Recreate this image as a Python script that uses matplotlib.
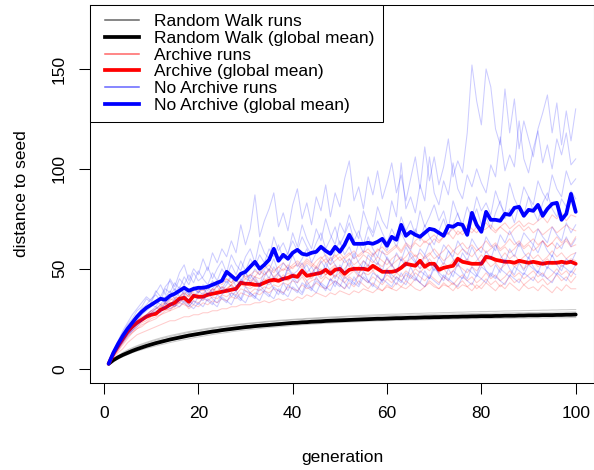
import numpy as np
import matplotlib
matplotlib.use("Agg")
import matplotlib.pyplot as plt
from matplotlib.lines import Line2D
from matplotlib.legend_handler import HandlerLine2D

plt.rcParams['font.family'] = ['Liberation Sans', 'DejaVu Sans']
plt.rcParams['font.size'] = 12.5

generation = np.arange(1, 101)

# global means
rw_mean = [
    2.5, 4.3, 5.7, 6.9, 7.9, 8.9, 9.8, 10.6, 11.4, 12.1,
    12.8, 13.4, 14.0, 14.6, 15.1, 15.6, 16.1, 16.6, 17.0, 17.4,
    17.8, 18.2, 18.6, 18.9, 19.3, 19.6, 19.9, 20.2, 20.5, 20.8,
    21.0, 21.3, 21.5, 21.7, 21.9, 22.1, 22.3, 22.5, 22.7, 22.9,
    23.0, 23.2, 23.3, 23.5, 23.6, 23.7, 23.9, 24.0, 24.1, 24.2,
    24.3, 24.4, 24.5, 24.6, 24.7, 24.8, 24.9, 25.0, 25.0, 25.1,
    25.2, 25.3, 25.3, 25.4, 25.5, 25.5, 25.6, 25.7, 25.7, 25.8,
    25.8, 25.9, 25.9, 26.0, 26.0, 26.1, 26.1, 26.2, 26.2, 26.3,
    26.3, 26.3, 26.4, 26.4, 26.5, 26.5, 26.5, 26.6, 26.6, 26.7,
    26.7, 26.7, 26.8, 26.8, 26.8, 26.9, 26.9, 27.0, 27.0, 27.1,
]
archive_mean = [
    2.5, 7.5, 11.5, 15, 18.5, 21, 23, 24.5, 26, 27,
    27.5, 29.5, 30.5, 32, 33, 35, 35.5, 33.5, 36.5, 36,
    36, 37, 37.5, 38, 38.5, 39, 39.5, 40, 43, 42.5,
    42.5, 42, 42, 43, 44, 44.5, 44, 45, 45.5, 46.5,
    46, 49, 46.5, 47, 47.5, 48, 49.5, 47.5, 49.5, 50,
    47.5, 49.5, 50, 50, 50, 49.5, 51.5, 50, 48.5, 48.5,
    48.5, 49, 50.5, 52.5, 52, 51.5, 54, 51, 52.5, 52.5,
    49.5, 50.5, 51, 51.5, 55, 53.5, 53, 52.5, 52.5, 52.5,
    56, 55.5, 54.5, 54, 53.5, 53.5, 53, 54, 53.5, 53,
    53.5, 53, 52.5, 53, 53, 53, 53.5, 53, 53.5, 52.5,
]
noarchive_mean = [
    2.5, 8, 12.5, 16.5, 20, 23, 26, 28.5, 30.5, 32,
    33.5, 35, 34.5, 36.5, 37.5, 39, 40.5, 39, 40, 40.5,
    40.5, 41, 42, 43, 44, 48.5, 46.5, 44.5, 47.5, 48.5,
    51, 53.5, 50, 52, 54.5, 60, 54, 57, 55, 58,
    59.5, 57.5, 57, 58, 58.5, 61, 59, 57.5, 61, 58.5,
    62, 67, 62.5, 62.5, 62.5, 63, 62.5, 63.5, 65, 61.5,
    66, 64.5, 72, 66.5, 68.5, 67, 66, 68, 70, 69.5,
    68, 66.5, 71.5, 71, 72.5, 72, 67, 78, 72, 68.5,
    78.5, 74.5, 74.5, 74, 77.5, 77, 80.5, 81, 76.5, 79.5,
    79, 82, 76.5, 80, 82.5, 83, 74.5, 77.5, 87.5, 78.5,
]

# individual runs
rw_runs = [
    [2.5, 4.0, 5.0, 6.0, 7.0, 8.0, 8.8, 9.5, 10.2, 10.8,
     11.4, 12.0, 12.5, 13.1, 13.6, 14.1, 14.6, 15.0, 15.5, 15.9,
     16.3, 16.7, 17.1, 17.5, 17.8, 18.1, 18.5, 18.8, 19.1, 19.4,
     19.6, 19.9, 20.1, 20.4, 20.6, 20.8, 21.0, 21.2, 21.4, 21.6,
     21.8, 22.0, 22.1, 22.3, 22.4, 22.6, 22.7, 22.8, 23.0, 23.1,
     23.2, 23.3, 23.4, 23.5, 23.6, 23.7, 23.8, 23.9, 24.0, 24.0,
     24.1, 24.2, 24.2, 24.3, 24.4, 24.4, 24.5, 24.5, 24.6, 24.6,
     24.7, 24.7, 24.8, 24.8, 24.9, 24.9, 24.9, 25.0, 25.0, 25.0,
     25.1, 25.1, 25.1, 25.2, 25.2, 25.2, 25.3, 25.3, 25.3, 25.3,
     25.4, 25.4, 25.4, 25.4, 25.5, 25.5, 25.5, 25.5, 25.6, 25.6],
    [2.5, 4.5, 5.8, 7.0, 8.0, 9.0, 9.8, 10.6, 11.3, 12.0,
     12.6, 13.2, 13.9, 14.4, 14.8, 15.3, 15.9, 16.2, 16.6, 17.1,
     17.6, 17.9, 18.3, 18.6, 19.0, 19.4, 19.6, 19.9, 20.3, 20.5,
     20.8, 21.0, 21.3, 21.4, 21.7, 21.9, 22.1, 22.2, 22.5, 22.6,
     22.8, 23.0, 23.0, 23.2, 23.4, 23.5, 23.6, 23.8, 23.8, 24.0,
     24.1, 24.1, 24.3, 24.4, 24.4, 24.6, 24.7, 24.7, 24.8, 24.9,
     25.0, 25.0, 25.1, 25.2, 25.2, 25.3, 25.4, 25.4, 25.5, 25.5,
     25.6, 25.6, 25.7, 25.7, 25.8, 25.8, 25.9, 25.9, 26.0, 26.0,
     26.0, 26.1, 26.1, 26.2, 26.2, 26.2, 26.3, 26.3, 26.3, 26.4,
     26.4, 26.4, 26.5, 26.5, 26.5, 26.6, 26.6, 26.6, 26.7, 26.7],
    [2.5, 4.2, 6.0, 7.3, 8.5, 9.5, 10.4, 11.3, 12.0, 12.8,
     13.5, 14.1, 14.6, 15.3, 15.8, 16.4, 16.8, 17.3, 17.7, 18.1,
     18.5, 18.9, 19.3, 19.6, 20.0, 20.3, 20.6, 20.9, 21.2, 21.4,
     21.7, 21.9, 22.2, 22.4, 22.6, 22.8, 23.0, 23.2, 23.4, 23.6,
     23.7, 23.9, 24.0, 24.2, 24.3, 24.4, 24.6, 24.7, 24.8, 24.9,
     25.0, 25.1, 25.2, 25.3, 25.4, 25.5, 25.6, 25.7, 25.8, 25.8,
     25.9, 26.0, 26.1, 26.1, 26.2, 26.3, 26.3, 26.4, 26.5, 26.5,
     26.6, 26.6, 26.7, 26.7, 26.8, 26.8, 26.9, 26.9, 27.0, 27.0,
     27.1, 27.1, 27.2, 27.2, 27.2, 27.3, 27.3, 27.4, 27.4, 27.4,
     27.5, 27.5, 27.5, 27.6, 27.6, 27.6, 27.7, 27.7, 27.7, 27.8],
    [2.5, 4.6, 6.2, 7.6, 8.9, 10.0, 11.0, 11.9, 12.7, 13.5,
     14.2, 14.8, 15.5, 16.0, 16.6, 17.1, 17.6, 18.1, 18.5, 18.9,
     19.3, 19.7, 20.1, 20.4, 20.8, 21.1, 21.4, 21.7, 22.0, 22.2,
     22.5, 22.7, 23.0, 23.2, 23.4, 23.6, 23.8, 24.0, 24.2, 24.3,
     24.5, 24.6, 24.8, 24.9, 25.1, 25.2, 25.3, 25.4, 25.6, 25.7,
     25.8, 25.9, 26.0, 26.1, 26.1, 26.2, 26.3, 26.4, 26.5, 26.5,
     26.6, 26.7, 26.7, 26.8, 26.9, 26.9, 27.0, 27.0, 27.1, 27.2,
     27.2, 27.3, 27.3, 27.4, 27.4, 27.5, 27.5, 27.6, 27.6, 27.7,
     27.7, 27.7, 27.8, 27.8, 27.9, 27.9, 28.0, 28.0, 28.0, 28.1,
     28.1, 28.1, 28.2, 28.2, 28.2, 28.3, 28.3, 28.3, 28.4, 28.4],
    [2.5, 4.8, 6.6, 8.1, 9.4, 10.5, 11.5, 12.4, 13.2, 14.0,
     14.7, 15.4, 16.0, 16.6, 17.1, 17.6, 18.1, 18.6, 19.0, 19.4,
     19.8, 20.2, 20.5, 20.9, 21.2, 21.5, 21.8, 22.1, 22.4, 22.6,
     22.9, 23.1, 23.3, 23.6, 23.8, 24.0, 24.2, 24.4, 24.5, 24.7,
     24.9, 25.0, 25.2, 25.3, 25.5, 25.6, 25.7, 25.9, 26.0, 26.1,
     26.2, 26.4, 26.5, 26.6, 26.7, 26.8, 26.9, 27.0, 27.1, 27.2,
     27.3, 27.3, 27.4, 27.5, 27.6, 27.7, 27.7, 27.8, 27.9, 27.9,
     28.0, 28.1, 28.1, 28.2, 28.3, 28.3, 28.4, 28.5, 28.5, 28.6,
     28.6, 28.7, 28.7, 28.8, 28.9, 28.9, 29.0, 29.0, 29.1, 29.1,
     29.2, 29.2, 29.3, 29.3, 29.4, 29.4, 29.5, 29.5, 29.6, 29.6],
]

archive_runs = [
    [3, 7, 11, 14, 17, 19, 21, 23, 24, 26,
     27, 29, 30, 29, 32, 33, 35, 34, 36, 37,
     36, 38, 40, 39, 41, 40, 42, 44, 43, 45,
     44, 46, 45, 47, 49, 46, 48, 50, 49, 51,
     52, 50, 53, 51, 54, 56, 53, 55, 57, 54,
     56, 58, 55, 57, 59, 58, 56, 60, 58, 57,
     59, 61, 58, 62, 60, 63, 61, 64, 62, 65,
     63, 66, 68, 65, 69, 67, 70, 68, 71, 69,
     70, 72, 69, 71, 73, 70, 72, 74, 71, 73,
     72, 74, 76, 73, 77, 75, 78, 74, 77, 76],
    [3, 8, 12, 16, 19, 22, 24, 25, 27, 28,
     30, 31, 33, 32, 35, 36, 38, 36, 39, 40,
     39, 41, 43, 41, 44, 45, 43, 46, 48, 46,
     47, 49, 47, 50, 52, 49, 51, 53, 50, 52,
     54, 52, 55, 53, 51, 55, 57, 54, 56, 58,
     55, 57, 59, 56, 58, 60, 57, 59, 61, 58,
     60, 62, 59, 63, 61, 64, 66, 63, 65, 67,
     64, 66, 68, 70, 67, 69, 72, 70, 68, 71,
     73, 70, 68, 71, 69, 67, 70, 72, 69, 71,
     68, 70, 67, 69, 71, 68, 70, 72, 70, 69],
    [3, 7, 10, 13, 17, 20, 22, 24, 26, 27,
     28, 30, 31, 33, 31, 34, 35, 37, 35, 38,
     40, 37, 39, 41, 38, 40, 42, 39, 44, 42,
     43, 45, 41, 44, 46, 43, 47, 45, 48, 46,
     47, 50, 46, 48, 51, 49, 47, 50, 52, 48,
     50, 53, 49, 51, 54, 52, 50, 53, 51, 55,
     52, 54, 56, 53, 55, 57, 54, 56, 58, 55,
     57, 54, 56, 59, 57, 60, 58, 56, 59, 61,
     58, 60, 62, 59, 61, 58, 60, 63, 60, 62,
     59, 61, 64, 61, 63, 60, 62, 64, 61, 62],
    [3, 6, 10, 14, 18, 21, 23, 25, 27, 29,
     28, 31, 32, 34, 36, 35, 37, 33, 38, 36,
     38, 37, 40, 38, 41, 39, 42, 40, 44, 43,
     41, 44, 42, 45, 43, 46, 44, 47, 45, 48,
     46, 49, 47, 45, 48, 50, 47, 49, 51, 48,
     46, 49, 51, 48, 50, 52, 49, 51, 48, 50,
     52, 49, 51, 54, 51, 53, 50, 52, 55, 52,
     50, 53, 51, 54, 56, 53, 55, 52, 54, 57,
     54, 56, 53, 55, 58, 55, 57, 54, 56, 58,
     55, 57, 54, 56, 59, 56, 58, 55, 57, 58],
    [3, 7, 11, 14, 18, 20, 23, 24, 26, 27,
     27, 29, 30, 32, 33, 35, 34, 32, 36, 35,
     37, 36, 38, 37, 39, 38, 40, 39, 42, 41,
     40, 42, 41, 43, 42, 44, 43, 45, 44, 46,
     45, 47, 44, 46, 48, 45, 47, 49, 46, 48,
     45, 47, 49, 46, 48, 47, 49, 46, 44, 47,
     45, 48, 46, 49, 47, 50, 48, 51, 49, 52,
     48, 50, 47, 49, 52, 50, 48, 51, 49, 52,
     54, 51, 53, 50, 52, 54, 51, 53, 50, 52,
     54, 51, 53, 55, 52, 54, 51, 53, 55, 54],
    [3, 6, 9, 12, 15, 18, 20, 22, 23, 25,
     26, 27, 29, 30, 31, 33, 32, 31, 34, 33,
     35, 34, 36, 35, 37, 36, 38, 37, 40, 39,
     38, 40, 39, 41, 40, 42, 41, 43, 42, 44,
     43, 46, 42, 44, 45, 43, 46, 44, 47, 45,
     43, 46, 44, 47, 45, 43, 46, 44, 42, 45,
     43, 46, 44, 47, 45, 48, 46, 44, 47, 45,
     43, 46, 44, 42, 45, 47, 44, 46, 43, 45,
     48, 45, 47, 44, 46, 49, 46, 48, 45, 47,
     49, 46, 48, 45, 47, 50, 47, 49, 46, 50],
    [3, 6, 9, 13, 16, 18, 20, 21, 23, 24,
     25, 27, 28, 29, 30, 31, 33, 30, 32, 31,
     33, 32, 34, 33, 35, 34, 36, 35, 38, 37,
     36, 38, 37, 39, 38, 40, 39, 38, 41, 40,
     39, 42, 40, 41, 43, 41, 40, 42, 44, 42,
     40, 43, 41, 44, 42, 40, 43, 41, 39, 42,
     40, 43, 41, 44, 42, 45, 43, 41, 44, 42,
     40, 43, 41, 39, 42, 44, 41, 43, 40, 42,
     45, 42, 44, 41, 43, 46, 43, 45, 42, 44,
     46, 43, 45, 42, 44, 47, 44, 46, 43, 46],
    [3, 5, 8, 10, 13, 15, 17, 18, 19, 20,
     21, 22, 23, 24, 24, 25, 26, 26, 27, 27,
     28, 28, 29, 29, 30, 30, 31, 31, 32, 32,
     32, 33, 33, 34, 33, 34, 35, 34, 35, 34,
     36, 35, 37, 36, 38, 37, 36, 38, 37, 39,
     38, 37, 39, 38, 40, 39, 38, 40, 39, 41,
     40, 39, 41, 40, 42, 40, 39, 41, 43, 41,
     40, 42, 41, 43, 40, 42, 41, 39, 42, 40,
     43, 41, 39, 42, 40, 43, 41, 39, 42, 40,
     41, 39, 42, 40, 38, 41, 39, 42, 40, 40],
    [3, 8, 12, 15, 19, 21, 24, 26, 27, 29,
     30, 32, 33, 35, 34, 36, 38, 36, 40, 39,
     41, 40, 42, 44, 42, 45, 43, 46, 48, 45,
     47, 46, 49, 47, 50, 48, 51, 49, 52, 50,
     53, 51, 54, 52, 50, 53, 55, 52, 54, 56,
     53, 55, 52, 54, 57, 55, 53, 56, 54, 52,
     55, 57, 54, 56, 59, 56, 58, 55, 57, 60,
     57, 59, 62, 59, 61, 63, 60, 62, 59, 61,
     64, 61, 63, 60, 62, 65, 62, 64, 61, 63,
     65, 62, 64, 61, 63, 66, 63, 65, 62, 66],
]

noarchive_runs = [
    [3, 8, 13, 18, 22, 25, 29, 31, 35, 33,
     38, 42, 37, 45, 41, 48, 52, 44, 50, 47,
     55, 49, 58, 53, 60, 56, 64, 58, 72, 62,
     70, 87, 66, 74, 80, 88, 71, 78, 69, 82,
     90, 75, 83, 72, 86, 79, 92, 76, 88, 81,
     95, 104, 84, 91, 80, 96, 87, 99, 85, 93,
     103, 88, 97, 84, 95, 106, 90, 111, 94, 106,
     92, 101, 115, 96, 104, 98, 118, 152, 134, 122,
     150, 141, 120, 112, 140, 118, 135, 110, 124, 115,
     106, 120, 128, 137, 118, 133, 112, 129, 114, 130],
    [3, 7, 12, 16, 20, 24, 27, 30, 32, 35,
     37, 34, 40, 38, 43, 40, 46, 42, 48, 44,
     46, 51, 45, 50, 54, 48, 57, 52, 49, 56,
     60, 53, 64, 58, 55, 66, 59, 63, 57, 68,
     61, 72, 65, 60, 70, 64, 75, 67, 62, 73,
     68, 77, 70, 65, 79, 72, 68, 81, 74, 70,
     84, 76, 103, 80, 86, 78, 92, 84, 106, 88,
     82, 94, 87, 103, 90, 85, 97, 91, 100, 93,
     88, 102, 96, 116, 99, 107, 101, 124, 105, 98,
     110, 119, 103, 112, 100, 115, 107, 118, 102, 105],
    [3, 9, 14, 19, 23, 27, 30, 33, 36, 34,
     39, 36, 41, 44, 39, 45, 42, 47, 43, 49,
     45, 42, 48, 44, 50, 46, 52, 47, 54, 49,
     55, 51, 57, 53, 60, 56, 62, 55, 58, 64,
     59, 66, 61, 57, 63, 68, 60, 65, 71, 62,
     67, 73, 64, 69, 62, 71, 66, 74, 68, 63,
     70, 65, 76, 69, 74, 67, 79, 71, 76, 82,
     74, 79, 70, 84, 77, 72, 81, 75, 86, 79,
     83, 77, 89, 82, 78, 93, 85, 80, 91, 86,
     82, 94, 88, 84, 97, 90, 86, 99, 92, 95],
    [3, 8, 12, 15, 19, 22, 26, 28, 30, 32,
     31, 35, 33, 37, 40, 36, 39, 37, 41, 38,
     42, 39, 44, 41, 45, 43, 47, 44, 42, 48,
     45, 50, 47, 52, 49, 55, 48, 53, 50, 57,
     51, 55, 60, 53, 58, 62, 56, 52, 59, 64,
     57, 61, 55, 63, 58, 66, 60, 56, 64, 59,
     66, 61, 68, 63, 59, 70, 64, 72, 66, 62,
     69, 75, 67, 72, 78, 70, 66, 74, 80, 72,
     76, 70, 78, 84, 75, 80, 73, 82, 77, 86,
     79, 74, 83, 88, 80, 76, 85, 81, 89, 85],
    [3, 7, 11, 15, 18, 21, 24, 27, 29, 31,
     33, 36, 32, 35, 38, 41, 37, 40, 36, 39,
     37, 41, 38, 42, 40, 44, 41, 39, 45, 42,
     47, 44, 41, 46, 50, 45, 48, 44, 51, 47,
     49, 53, 48, 51, 47, 54, 50, 56, 52, 49,
     55, 51, 58, 53, 50, 57, 54, 52, 59, 55,
     51, 58, 54, 61, 56, 53, 60, 57, 63, 58,
     55, 62, 59, 56, 64, 60, 57, 65, 61, 58,
     66, 62, 59, 67, 63, 69, 64, 61, 68, 65,
     62, 70, 66, 63, 71, 67, 64, 73, 68, 72],
    [3, 8, 12, 16, 20, 23, 25, 28, 30, 32,
     34, 32, 36, 39, 35, 38, 42, 37, 40, 38,
     41, 37, 40, 43, 39, 42, 46, 41, 44, 48,
     43, 46, 42, 49, 45, 51, 47, 44, 50, 46,
     43, 49, 52, 47, 51, 46, 53, 49, 45, 52,
     48, 55, 50, 47, 54, 51, 58, 53, 49, 56,
     52, 48, 55, 51, 58, 54, 50, 57, 53, 49,
     56, 52, 59, 55, 51, 58, 54, 61, 56, 52,
     59, 55, 62, 57, 53, 60, 56, 63, 58, 55,
     62, 58, 64, 59, 56, 63, 60, 66, 61, 65],
    [3, 7, 11, 14, 17, 20, 23, 25, 27, 29,
     31, 29, 33, 31, 35, 33, 37, 34, 32, 36,
     34, 38, 35, 33, 37, 40, 36, 39, 35, 41,
     38, 36, 42, 39, 44, 40, 37, 43, 39, 45,
     41, 38, 44, 40, 46, 42, 39, 45, 41, 47,
     43, 40, 46, 42, 49, 44, 41, 47, 43, 50,
     45, 42, 48, 44, 51, 46, 43, 49, 45, 52,
     47, 44, 50, 46, 53, 48, 45, 51, 47, 54,
     49, 46, 52, 48, 55, 50, 47, 53, 49, 56,
     51, 48, 54, 50, 57, 52, 49, 55, 53, 58],
    [3, 6, 10, 13, 16, 19, 21, 24, 26, 28,
     30, 32, 30, 33, 31, 35, 33, 31, 34, 32,
     36, 34, 32, 37, 35, 33, 38, 36, 34, 39,
     37, 35, 40, 38, 36, 41, 39, 37, 42, 40,
     38, 43, 41, 39, 44, 42, 40, 45, 43, 41,
     46, 44, 42, 47, 45, 43, 48, 46, 44, 49,
     47, 45, 43, 48, 46, 44, 49, 47, 45, 50,
     48, 46, 44, 49, 47, 45, 50, 48, 46, 51,
     49, 47, 45, 50, 48, 46, 51, 49, 47, 52,
     50, 48, 46, 51, 49, 47, 52, 50, 48, 52],
    [3, 7, 10, 14, 17, 19, 22, 24, 26, 27,
     29, 28, 31, 30, 32, 31, 34, 32, 30, 33,
     31, 35, 33, 31, 36, 34, 32, 37, 35, 33,
     38, 36, 34, 39, 37, 35, 40, 38, 36, 41,
     39, 37, 42, 40, 38, 43, 41, 39, 44, 42,
     40, 45, 43, 41, 46, 44, 42, 40, 45, 43,
     41, 46, 44, 42, 47, 45, 43, 41, 46, 44,
     42, 47, 45, 43, 41, 46, 44, 42, 47, 45,
     43, 48, 46, 44, 42, 47, 45, 43, 48, 46,
     44, 49, 47, 45, 43, 48, 46, 44, 49, 47],
]

labels = ["Random Walk runs", "Random Walk (global mean)",
          "Archive runs", "Archive (global mean)",
          "No Archive runs", "No Archive (global mean)"]

fig = plt.figure(figsize=(5.94, 4.70), dpi=100)
ax = fig.add_axes([90 / 594, 87.3 / 470, 504.4 / 594, 377.7 / 470])

groups = [(rw_runs, rw_mean, 'black'),
          (archive_runs, archive_mean, 'red'),
          (noarchive_runs, noarchive_mean, 'blue')]
handles = []
for runs, mean, col in groups:
    for run in runs:
        ax.plot(generation[:len(run)], run, color=col, alpha=0.2, lw=0.75)
    ax.plot(generation[:len(mean)], mean, color=col, lw=2.7,
            solid_joinstyle='round', solid_capstyle='round')
    handles.append(Line2D([], [], color=col, alpha=0.6, lw=1.1))
    handles.append(Line2D([], [], color=col, lw=2.7))

ax.set_xlim(-2.96, 103.96)
ax.set_ylim(-7, 182)
ax.set_xticks([0, 20, 40, 60, 80, 100])
ax.set_yticks([0, 50, 100, 150])
ax.tick_params(direction='out', length=7.6, width=0.75, pad=9, colors='black')
for lbl in ax.get_yticklabels():
    lbl.set_rotation(90)
    lbl.set_va('center')
for sp in ax.spines.values():
    sp.set_linewidth(0.75)

ax.set_xlabel("generation", va='center')
ax.xaxis.set_label_coords(0.5, -0.199)
ax.set_ylabel("distance to seed", va='center')
ax.yaxis.set_label_coords(-0.135, 0.5)

leg = ax.legend(handles, labels, loc='upper left', bbox_to_anchor=(0, 1),
                borderaxespad=0, fancybox=False, edgecolor='black',
                framealpha=1, borderpad=0.53, labelspacing=0.086,
                handlelength=2.29, handletextpad=0.86,
                handler_map={Line2D: HandlerLine2D(xpad=0.33)})
leg.get_frame().set_linewidth(0.75)

fig.savefig("out.png", dpi=100)
